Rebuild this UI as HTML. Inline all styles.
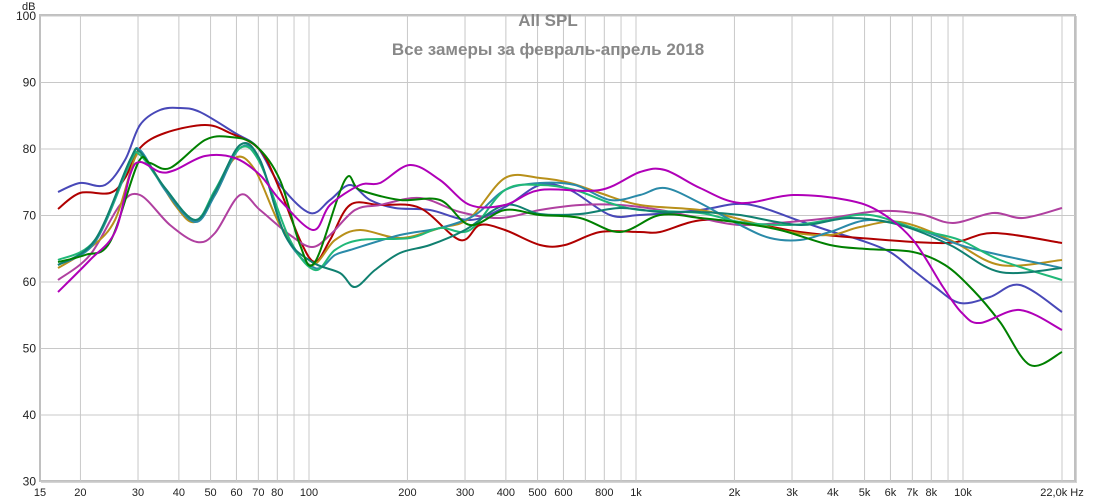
<!DOCTYPE html>
<html><head><meta charset="utf-8"><style>
body{margin:0;background:#fff;}
svg{display:block;font-family:"Liberation Sans","DejaVu Sans",sans-serif;}
</style></head><body>
<svg id="s" width="1095" height="502" xmlns="http://www.w3.org/2000/svg">
<rect x="0" y="0" width="1095" height="502" fill="#fff"/>
<rect x="41" y="16" width="1036" height="467" fill="#d4d4d4"/>
<rect x="40" y="15" width="1035" height="466" fill="#fff" stroke="#c0c0c0" stroke-width="2"/>
<g id="grid" stroke="#c8c8c8" stroke-width="1"></g>
<g id="labels" font-size="11" fill="#222"></g>
<text x="548" y="26" text-anchor="middle" font-size="17" font-weight="bold" fill="#888">All SPL</text>
<text x="548" y="55" text-anchor="middle" font-size="17" font-weight="bold" fill="#888">Все замеры за февраль-апрель 2018</text>
<text x="22" y="10" font-size="11" fill="#222">dB</text>
<g id="curves" fill="none" stroke-width="2"></g>
</svg>
<script>
var NS="http://www.w3.org/2000/svg";
function el(p,t,a,txt){var e=document.createElementNS(NS,t);for(var k in a)e.setAttribute(k,a[k]);if(txt)e.textContent=txt;document.getElementById(p).appendChild(e);}
for(var d=30;d<=100;d+=10){var y=16+(100-d)*6.65;el("grid","line",{x1:40,x2:1075,y1:y,y2:y});el("labels","text",{x:36,y:y+4,"text-anchor":"end","font-size":12},String(d));}
var fx=[[15,""],[20,"20"],[30,"30"],[40,"40"],[50,"50"],[60,"60"],[70,"70"],[80,"80"],[90,""],[100,"100"],[200,"200"],[300,"300"],[400,"400"],[500,"500"],[600,"600"],[700,""],[800,"800"],[900,""],[1000,"1k"],[2000,"2k"],[3000,"3k"],[4000,"4k"],[5000,"5k"],[6000,"6k"],[7000,"7k"],[8000,"8k"],[9000,""],[10000,"10k"],[22000,"22,0k Hz"]];
fx.forEach(function(f){var x=963-327*Math.log10(10000/f[0]);if(f[0]==22000)x=1062;if(f[0]==15)x=40;
 if(f[0]!=15)el("grid","line",{x1:x,x2:x,y1:15,y2:481});
 el("labels","text",{x:x,y:496,"text-anchor":"middle","font-size":11},f[0]==15?"15":f[1]);});
var C={
"#4848b8":[[58,192],[80,183],[105,185],[125,160],[140,125],[160,110],[180,108],[200,112],[235,133],[258,148],[280,185],[310,213],[330,200],[350,185],[370,200],[395,208],[430,210],[470,220],[505,207],[540,185],[570,190],[610,215],[640,215],[700,210],[735,204],[760,207],[800,221],[833,232],[860,240],[890,252],[913,270],[935,287],[960,303],[990,297],[1020,285],[1062,312]],
"#b00000":[[58,209],[80,193],[110,193],[125,178],[140,148],[165,133],[205,125],[230,133],[260,150],[280,190],[300,240],[315,262],[330,240],[350,205],[380,205],[420,208],[460,240],[480,225],[505,230],[540,245],[565,245],[600,232],[640,232],[660,232],[703,220],[760,225],[800,232],[860,238],[947,243],[993,233],[1062,243]],
"#b040a0":[[58,280],[90,255],[120,205],[140,195],[170,225],[197,242],[215,233],[240,195],[260,210],[290,235],[312,247],[330,235],[355,210],[380,205],[420,198],[460,212],[500,218],[540,210],[580,205],[620,205],[660,210],[700,218],[740,225],[790,222],[830,218],[880,211],[920,214],[953,223],[993,213],[1023,218],[1062,208]],
"#b8901a":[[58,268],[90,248],[115,220],[135,158],[145,158],[175,205],[195,222],[215,195],[235,158],[255,170],[280,225],[310,265],[335,240],[360,230],[400,238],[440,228],[470,218],[505,178],[540,178],[570,183],[600,193],[640,205],[700,210],[735,218],[790,232],[830,235],[860,227],[900,222],[950,240],[1000,265],[1062,260]],
"#2a8aa8":[[58,265],[95,242],[130,163],[140,150],[165,190],[195,222],[215,195],[240,148],[260,160],[285,235],[315,268],[335,255],[350,250],[400,235],[440,228],[475,215],[505,190],[540,183],[575,185],[610,200],[640,195],[665,188],[700,203],[740,225],[770,238],[800,240],[830,232],[870,220],[920,230],[960,245],[1000,255],[1062,268]],
"#20b878":[[58,260],[95,240],[130,163],[140,155],[165,188],[195,220],[215,190],[240,148],[260,163],[290,240],[315,270],[335,250],[360,240],[410,238],[440,228],[470,230],[505,190],[540,185],[575,190],[610,203],[640,210],[700,213],[740,222],[790,225],[830,220],[870,215],[920,230],[960,240],[1000,260],[1062,280]],
"#108070":[[58,265],[95,240],[130,160],[140,152],[165,188],[195,220],[215,192],[240,145],[260,160],[285,235],[312,262],[340,273],[355,287],[375,270],[400,253],[430,245],[465,230],[505,205],[540,214],[580,214],[620,208],[660,212],[700,212],[740,215],[800,225],[850,218],[900,225],[950,245],[1000,272],[1062,268]],
"#008000":[[58,262],[85,255],[110,242],[138,163],[150,163],[170,168],[205,140],[230,137],[255,145],[280,180],[300,245],[315,262],[345,180],[360,190],[400,200],[440,200],[470,225],[505,210],[540,215],[580,218],[620,232],[660,215],[700,218],[735,222],[780,230],[830,245],[867,249],[913,252],[945,265],[973,290],[1000,322],[1030,365],[1062,352]],
"#b000b8":[[58,292],[90,260],[115,232],[130,175],[140,162],[160,172],[175,170],[205,156],[235,158],[260,175],[280,200],[313,230],[330,205],[360,185],[380,183],[410,165],[440,180],[470,205],[505,205],[540,190],[600,190],[640,172],[665,170],[700,188],[740,203],[793,195],[847,200],[880,212],[913,240],[943,287],[962,313],[980,323],[1020,310],[1062,330]]
};
for(var c in C){var p=C[c],d="M"+p[0][0]+","+p[0][1];
 for(var i=0;i<p.length-1;i++){var p0=p[i-1]||p[i],p1=p[i],p2=p[i+1],p3=p[i+2]||p2;
  d+=" C"+(p1[0]+(p2[0]-p0[0])/6).toFixed(1)+","+(p1[1]+(p2[1]-p0[1])/6).toFixed(1)+" "+(p2[0]-(p3[0]-p1[0])/6).toFixed(1)+","+(p2[1]-(p3[1]-p1[1])/6).toFixed(1)+" "+p2[0]+","+p2[1];}
 el("curves","path",{d:d,stroke:c});}
</script>
</body></html>
